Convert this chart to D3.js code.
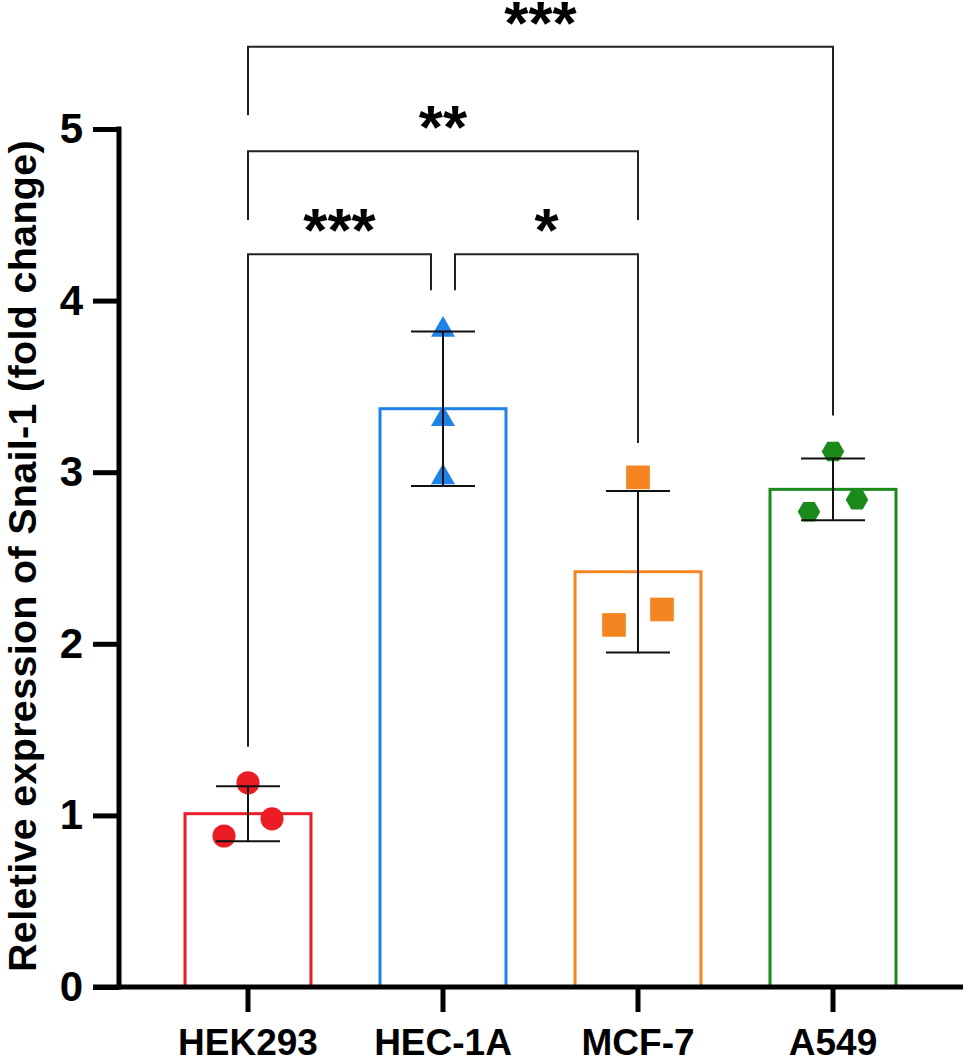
<!DOCTYPE html>
<html>
<head>
<meta charset="utf-8">
<script src="https://cdn.jsdelivr.net/npm/d3@7"></script>
<style>
  body { margin: 0; background: #fff; }
  svg { display: block; font-family: "Liberation Sans", Arial, sans-serif; font-weight: bold; }
</style>
</head>
<body>
<svg id="chart" width="968" height="1064"></svg>
<script>
// cell lines and their colours
const groups = ['HEK293', 'HEC-1A', 'MCF-7', 'A549'];
const colors = ['#ec1c24', '#1f82e8', '#f58520', '#1a8a1a'];
const shapes = ['circle', 'triangle', 'square', 'hexagon'];

// bar heights (mean), SD error bars and replicates
const means = [1.01, 3.37, 2.42, 2.90];
const sds = [0.16, 0.45, 0.47, 0.18];
const replicates = [
  [1.19, 0.98, 0.88],
  [3.83, 3.31, 2.97],
  [2.97, 2.11, 2.20],
  [3.12, 2.84, 2.77]
];

const yTicks = [0, 1, 2, 3, 4, 5];
const yLabel = 'Reletive expression of Snail-1 (fold change)';

// significance brackets: [from, to, bracket level, left leg end, right leg end, label]
const comparisons = [
  [0, 3, 5.48, 5.08, 3.33, '***'],
  [0, 2, 4.87, 4.47, 4.47, '**'],
  [0, 1, 4.27, 1.40, 4.06, '***'],
  [1, 2, 4.27, 4.06, 3.17, '*']
];

const svg = d3.select('#chart');

const x = d3.scaleBand().domain(groups).range([150.5, 930.5]).paddingInner(0.354).paddingOuter(0.177);
const y = d3.scaleLinear().domain([0, 5]).range([987, 129]);
const cx = g => x(g) + x.bandwidth() / 2;

// bars
svg.append('g').selectAll('rect')
  .data(groups)
  .join('rect')
  .attr('x', d => x(d))
  .attr('y', (d, i) => y(means[i]))
  .attr('width', x.bandwidth())
  .attr('height', (d, i) => y(0) - y(means[i]))
  .attr('fill', 'none')
  .attr('stroke', (d, i) => colors[i])
  .attr('stroke-width', 3);

// hexagon with points left and right
const hexagon = {
  draw(ctx, size) {
    const r = Math.sqrt(size / (1.5 * Math.sqrt(3)));
    for (let k = 0; k < 6; k++) {
      const a = k * Math.PI / 3;
      const px = r * Math.cos(a), py = r * Math.sin(a);
      if (k === 0) ctx.moveTo(px, py); else ctx.lineTo(px, py);
    }
    ctx.closePath();
  }
};
const symbolFor = {
  circle: d3.symbol(d3.symbolCircle, 420),
  triangle: d3.symbol(d3.symbolTriangle, 250),
  square: d3.symbol(d3.symbolSquare, 560),
  hexagon: d3.symbol(hexagon, 330)
};
// horizontal scatter of replicates, as in the prism layout
const spread = [[0, 1, -1], [0, 0, 0], [0, -1, 1], [0, 1, -1]];

const points = [];
replicates.forEach((vals, i) => vals.forEach((v, j) => points.push({ i, j, v })));

svg.append('g').selectAll('path')
  .data(points)
  .join('path')
  .attr('d', d => symbolFor[shapes[d.i]]())
  .attr('transform', d => `translate(${cx(groups[d.i]) + spread[d.i][d.j] * 24},${y(d.v)})`)
  .attr('fill', d => colors[d.i]);

// error bars
const eb = svg.append('g').attr('stroke', '#111').attr('stroke-width', 2);
groups.forEach((g, i) => {
  const c = cx(g), hi = y(means[i] + sds[i]), lo = y(means[i] - sds[i]);
  eb.append('line').attr('x1', c).attr('x2', c).attr('y1', hi).attr('y2', lo);
  eb.append('line').attr('x1', c - 32).attr('x2', c + 32).attr('y1', hi).attr('y2', hi);
  eb.append('line').attr('x1', c - 32).attr('x2', c + 32).attr('y1', lo).attr('y2', lo);
});

// axes
const yAxis = svg.append('g')
  .attr('transform', 'translate(119,0)')
  .call(d3.axisLeft(y).tickValues(yTicks).tickFormat(d3.format('d')).tickSize(26).tickPadding(10));
yAxis.select('.domain').attr('d', `M0,${y(5) - 2.5}V${y(0) + 2.5}`).attr('stroke-width', 5).attr('stroke', '#000');
yAxis.selectAll('.tick line').attr('stroke-width', 5).attr('stroke', '#000');
yAxis.selectAll('.tick text').attr('font-size', 42).attr('font-weight', 'bold').attr('fill', '#000')
  .attr('font-family', '"Liberation Sans", Arial, sans-serif');

const xAxis = svg.append('g')
  .attr('transform', `translate(0,${y(0)})`)
  .call(d3.axisBottom(x).tickSize(25).tickPadding(17));
xAxis.select('.domain').attr('d', 'M93,0H963').attr('stroke-width', 5).attr('stroke', '#000');
xAxis.selectAll('.tick line').attr('stroke-width', 5).attr('stroke', '#000');
xAxis.selectAll('.tick text').attr('font-size', 37).attr('font-weight', 'bold').attr('fill', '#000')
  .attr('font-family', '"Liberation Sans", Arial, sans-serif');

svg.append('text')
  .attr('transform', `translate(36,${(y(0) + y(5)) / 2 - 2}) rotate(-90)`)
  .attr('text-anchor', 'middle')
  .attr('font-size', 39.5)
  .attr('letter-spacing', 0.3)
  .text(yLabel);

// significance brackets
const br = svg.append('g');
const gap = 12;
comparisons.forEach(([a, b, lvl, l1, l2, label]) => {
  // pull ends apart when two brackets share a group
  const shareL = comparisons.some(c => c[1] === a && c[2] === lvl);
  const shareR = comparisons.some(c => c[0] === b && c[2] === lvl);
  const xa = cx(groups[a]) + (shareL ? gap : 0);
  const xb = cx(groups[b]) - (shareR ? gap : 0);
  br.append('path')
    .attr('d', `M${xa},${y(l1)}V${y(lvl)}H${xb}V${y(l2)}`)
    .attr('fill', 'none')
    .attr('stroke', '#222')
    .attr('stroke-width', 2);
  br.append('text')
    .attr('x', (xa + xb) / 2)
    .attr('y', y(lvl) - 3)
    .attr('text-anchor', 'middle')
    .attr('font-size', 62)
    .text(label);
});
</script>
</body>
</html>
